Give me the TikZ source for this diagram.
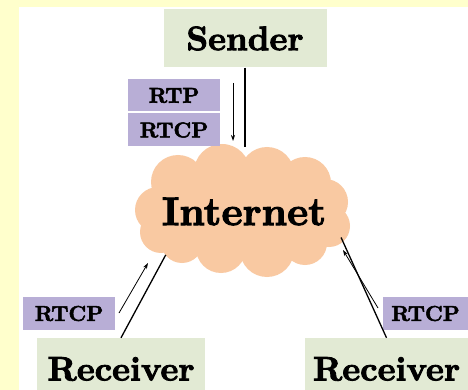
\documentclass[tikz,border=0pt]{standalone}
\usepackage{fontspec}
\usetikzlibrary{shapes.geometric,arrows.meta}

% heavy slab-like serif for all labels
\newfontfamily\heavyfont{lmroman10-bold.otf}[FakeBold=2.5]

\definecolor{pagebg}{RGB}{255,255,204}
\definecolor{hostgreen}{RGB}{226,234,212}
\definecolor{protopurple}{RGB}{184,174,214}
\definecolor{cloudpeach}{RGB}{249,201,162}

\tikzset{
  host/.style={fill=hostgreen, draw=none, inner sep=0pt, text=black,
    font=\heavyfont\fontsize{34}{38}\selectfont},
  proto/.style={fill=protopurple, draw=none, inner sep=0pt, text=black,
    font=\heavyfont\fontsize{21.5}{24}\selectfont},
  link/.style={draw=black, line width=1.3pt},
  flow/.style={draw=black, line width=0.8pt, -{Stealth[length=6pt,width=4pt]}}
}

\begin{document}
\begin{tikzpicture}[x=1pt, y=-1pt]
  % page background and white panel
  \fill[pagebg] (0,0) rectangle (468,390);
  \fill[white] (19,7) rectangle (468,390);
  \useasboundingbox (0,0) rectangle (468,390);

  % hosts
  \node[host, minimum width=163pt, minimum height=58pt] (sender) at (245,38.5) {Sender};
  \node[host, minimum width=168pt, minimum height=62pt] (recvL) at (121,369) {Receiver};
  \node[host, minimum width=163pt, minimum height=62pt] (recvR) at (386.5,369) {Receiver};

  % the network cloud: a body with puffs round it
  \fill[cloudpeach]
    (244,212) ellipse [x radius=88pt, y radius=46pt]
    (178,182) circle [radius=27pt]
    (222,172) circle [radius=28pt]
    (267,174) circle [radius=27pt]
    (305,183) circle [radius=26pt]
    (325,202) circle [radius=23pt]
    (158,210) circle [radius=23pt]
    (161,232) circle [radius=21pt]
    (182,242) circle [radius=21pt]
    (221,248) circle [radius=25pt]
    (267,250) circle [radius=27pt]
    (305,243) circle [radius=22pt]
    (329,226) circle [radius=21pt];
  \node[ellipse, draw=none, minimum width=212pt, minimum height=128pt, inner sep=0pt]
    (internet) at (244,211.5) {};
  \node[font=\heavyfont\fontsize{40}{44}\selectfont, text=black] (internetName) at (internet.center) {Internet};

  % protocol tags
  \node[proto, minimum width=92pt, minimum height=32pt] (rtp) at (174,95.5) {RTP};
  \node[proto, minimum width=92pt, minimum height=33pt] (rtcpS) at (174,130) {RTCP};
  \node[proto, minimum width=92pt, minimum height=33pt] (rtcpL) at (69,313.5) {RTCP};
  \node[proto, minimum width=85pt, minimum height=33pt] (rtcpR) at (425.5,313.5) {RTCP};

  % links to the cloud
  \draw[link] (sender.south) -- (sender.south |- internet.north);
  \draw[link] (recvL.north) -- (internet.209);
  \draw[link] (recvR.north) -- (internet.345);

  % direction of the traffic
  \coordinate (downTop) at (233,83);
  \coordinate (downEnd) at (233,141);
  \draw[flow] (downTop) -- (downEnd);
  \coordinate (upLTail) at (119,313);
  \coordinate (upLHead) at (148,263);
  \draw[flow] (upLTail) -- (upLHead);
  \coordinate (upRTail) at (378,308);
  \coordinate (upRHead) at (343,250);
  \draw[flow] (upRTail) -- (upRHead);
\end{tikzpicture}
\end{document}
